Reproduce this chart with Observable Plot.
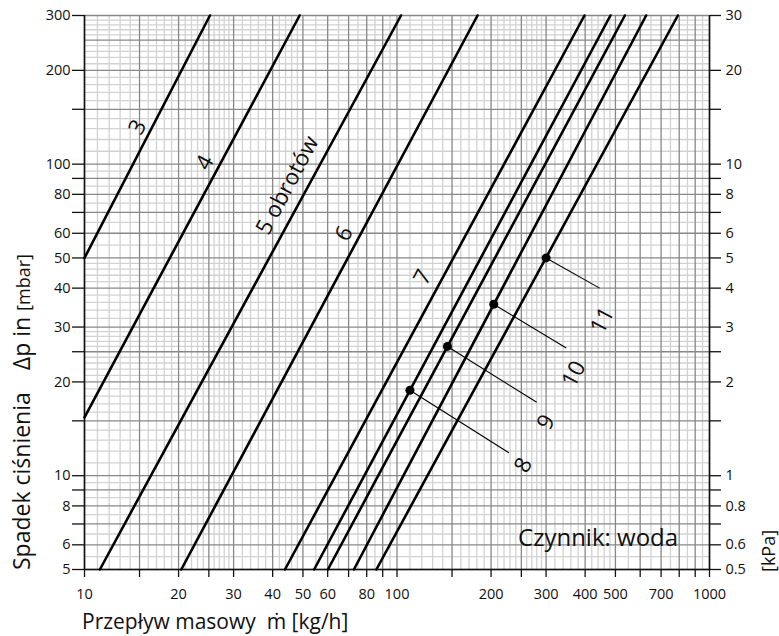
<!DOCTYPE html>
<html>
<head>
<meta charset="utf-8">
<script src="https://cdn.jsdelivr.net/npm/d3@7"></script>
<script src="https://cdn.jsdelivr.net/npm/@observablehq/plot@0.6"></script>
<style>
  body { margin: 0; background: #fff; }
  svg { display: block; }
</style>
</head>
<body>
<div id="chart"></div>
<script>
// Valve presetting (number of turns) and the two end points of each characteristic
const settings = ["3", "4", "5", "6", "7", "8", "9", "10", "11"];
const flowLow  = [10, 10, 11.2, 20.4, 43.8, 54.3, 60.1, 72.8, 85.9];   // kg/h
const dpLow    = [50, 15.4, 5, 5, 5, 5, 5, 5, 5];                       // mbar
const flowHigh = [25.2, 48.8, 103, 181, 398, 482, 536, 627, 792];      // kg/h
const dpHigh   = [300, 300, 300, 300, 300, 300, 300, 300, 300];        // mbar

// Curve labels
const labelText = ["3", "4", "5 obrotów", "6", "7", "8", "9", "10", "11"];
const labelFlow = [14.8, 24.3, 44.6, 67.7, 121, 254, 300, 368, 454];
const labelDp   = [131.5, 101, 85.5, 59.8, 43.4, 10.8, 14.85, 21.2, 31.5];

// Marked points on curves 8–11 with their leader lines
const markSetting = ["8", "9", "10", "11"];
const markFlow    = [110, 145, 204, 300];
const markDp      = [18.8, 26, 35.5, 50];
const leaderFlow  = [228, 280, 348, 445];
const leaderDp    = [11.85, 17.2, 25.7, 40];

// Axis ticks
const xTicks  = [10, 15, 20, 25, 30, 40, 50, 60, 70, 80, 90, 100, 150, 200, 250, 300, 400, 500, 600, 700, 800, 900, 1000];
const xLabels = [10, 20, 30, 40, 50, 60, 80, 100, 200, 300, 400, 500, 700, 1000];
const yTicks  = [5, 6, 7, 8, 9, 10, 15, 20, 25, 30, 40, 50, 60, 70, 80, 90, 100, 150, 200, 300];
const yLabels = [5, 6, 8, 10, 20, 30, 40, 50, 60, 80, 100, 200, 300];
const yGrid   = [5, 6, 7, 8, 9, 10, 15, 20, 25, 30, 40, 50, 60, 70, 80, 90, 100, 150, 200, 250, 300];

// fine graph-paper subdivisions within each decade
const fineSteps = [1.1, 1.2, 1.3, 1.4, 1.6, 1.7, 1.8, 1.9, 2.1, 2.2, 2.3, 2.4, 2.6, 2.7, 2.8, 2.9,
                   3.2, 3.4, 3.6, 3.8, 4.2, 4.4, 4.6, 4.8, 5.5, 6.5, 7.5, 8.5, 9.5];
const fineX = [10, 100].flatMap(d => fineSteps.map(s => +(s * d).toPrecision(4)));
const fineY = [1, 10, 100].flatMap(d => fineSteps.map(s => +(s * d).toPrecision(4))).filter(v => v > 5 && v < 300);

const lineData = settings.flatMap((s, i) => [
  {setting: s, flow: flowLow[i], dp: dpLow[i]},
  {setting: s, flow: flowHigh[i], dp: dpHigh[i]}
]);
const labels = labelText.map((t, i) => ({text: t, flow: labelFlow[i], dp: labelDp[i]}));
const marks = markSetting.map((s, i) => ({setting: s, flow: markFlow[i], dp: markDp[i], flow2: leaderFlow[i], dp2: leaderDp[i]}));

const W = 779, H = 636;
const FONT = "'Open Sans', 'Noto Sans', sans-serif";
const kPa = d => String(+(d / 10).toFixed(1));

const chart = Plot.plot({
  width: W,
  height: H,
  marginLeft: 84,
  marginRight: 70,
  marginTop: 15,
  marginBottom: 67,
  style: {fontFamily: FONT, fontSize: "14.5px", color: "#111", background: "#fff"},
  x: {type: "log", domain: [10, 1000], label: null},
  y: {type: "log", domain: [5, 300], label: null},
  marks: [
    Plot.ruleX(fineX, {stroke: "#d2d2d2", strokeWidth: 1.3}),
    Plot.ruleY(fineY, {stroke: "#d2d2d2", strokeWidth: 1.3}),
    Plot.ruleX(xTicks, {stroke: "#888", strokeWidth: 1.3}),
    Plot.ruleY(yGrid, {stroke: "#888", strokeWidth: 1.3}),
    Plot.ruleX([10, 1000], {stroke: "#111", strokeWidth: 1.6}),
    Plot.ruleY([5], {stroke: "#111", strokeWidth: 1.6}),
    Plot.axisX(xTicks, {tickSize: 8, tickPadding: 11, label: null, strokeWidth: 1.3,
      text: d => xLabels.includes(d) ? String(d) : ""}),
    Plot.axisY(yTicks, {tickSize: 12, tickPadding: 2, label: null, strokeWidth: 1.3,
      text: d => yLabels.includes(d) ? String(d) : ""}),
    Plot.axisY(yTicks, {anchor: "right", tickSize: 11, tickPadding: 5, label: null, strokeWidth: 1.3,
      text: d => yLabels.includes(d) ? kPa(d) : ""}),
    Plot.line(lineData, {x: "flow", y: "dp", z: "setting", stroke: "#000", strokeWidth: 2.6}),
    Plot.link(marks, {x1: "flow", y1: "dp", x2: "flow2", y2: "dp2", stroke: "#000", strokeWidth: 1.1}),
    Plot.dot(marks, {x: "flow", y: "dp", r: 4.5, fill: "#000"}),
    Plot.text(labels, {x: "flow", y: "dp", text: "text", rotate: -62, fontSize: 22.5, fill: "#111"}),
    Plot.text(["Czynnik: woda"], {x: [440], y: [6.29], text: d => d, fontSize: 24, fill: "#111"})
  ]
});

const svg = d3.select(chart);

// left title: pressure drop in mbar
const yt = svg.append("text")
  .attr("transform", "translate(30,570) rotate(-90)")
  .attr("text-anchor", "start")
  .attr("font-family", FONT)
  .attr("fill", "#111");
yt.append("tspan").attr("font-size", 23).text("Spadek ciśnienia");
yt.append("tspan").attr("font-size", 23).attr("dx", 22).text("Δp in");
yt.append("tspan").attr("font-size", 18).attr("dx", 6).text("[mbar]");

// right unit
svg.append("text")
  .attr("transform", "translate(775,572) rotate(-90)")
  .attr("text-anchor", "start")
  .attr("font-family", FONT)
  .attr("font-size", 18)
  .attr("fill", "#111")
  .text("[kPa]");

// bottom title: mass flow
svg.append("text")
  .attr("x", 82).attr("y", 629)
  .attr("text-anchor", "start")
  .attr("font-family", FONT)
  .attr("font-size", 21)
  .attr("fill", "#111")
  .style("white-space", "pre")
  .text("Przepływ masowy  ṁ [kg/h]");

document.getElementById("chart").append(chart);
</script>
</body>
</html>
